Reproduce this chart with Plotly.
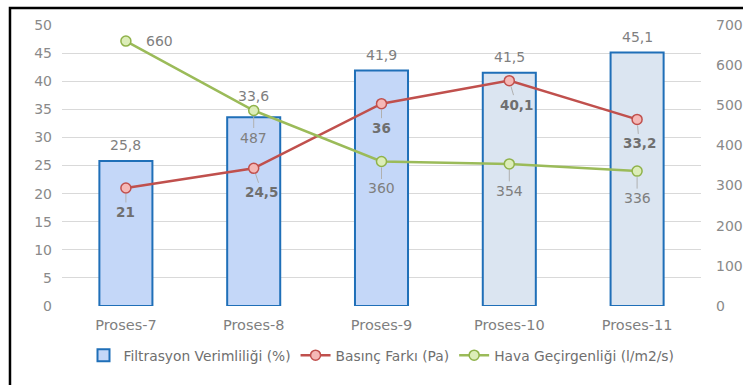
import plotly.graph_objects as go

categories = ["Proses-7", "Proses-8", "Proses-9", "Proses-10", "Proses-11"]
filtrasyon = [25.8, 33.6, 41.9, 41.5, 45.1]
basinc = [21, 24.5, 36, 40.1, 33.2]
hava = [660, 487, 360, 354, 336]
left_ticks = list(range(0, 51, 5))
right_ticks = list(range(0, 701, 100))


def fmt(v):
    s = f"{v:.1f}"
    if s.endswith(".0"):
        s = s[:-2]
    return s.replace(".", ",")


FONT = "'DejaVu Sans', sans-serif"
bar_colors = ["#c4d7f8", "#c4d7f8", "#c4d7f8", "#dbe5f1", "#dbe5f1"]

fig = go.Figure()
fig.add_trace(go.Bar(
    x=categories, y=filtrasyon, name="Filtrasyon Verimliliği (%)",
    marker=dict(color=bar_colors, line=dict(color="#1f6fb8", width=2)),
    yaxis="y",
))
fig.add_trace(go.Scatter(
    x=categories, y=basinc, name="Basınç Farkı (Pa)", mode="lines+markers",
    line=dict(color="#c0504d", width=2.5),
    marker=dict(size=10, color="#f5b8b6", line=dict(color="#c0504d", width=1.5)),
    yaxis="y",
))
fig.add_trace(go.Scatter(
    x=categories, y=hava, name="Hava Geçirgenliği (l/m2/s)", mode="lines+markers",
    line=dict(color="#9bbb59", width=2.5),
    marker=dict(size=10, color="#dcedb8", line=dict(color="#8fb24a", width=1.5)),
    yaxis="y2",
))

annotations = []
bar_dy = [16, 21, 16, 16, 16]
for i, (c, v) in enumerate(zip(categories, filtrasyon)):
    annotations.append(dict(
        x=c, y=v, xref="x", yref="y", text=fmt(v), showarrow=False,
        yshift=bar_dy[i], font=dict(color="#7f7f7f", size=14, family=FONT),
    ))
red_dx = [0, 8, 0, 7, 2]
for i, (c, v) in enumerate(zip(categories, basinc)):
    annotations.append(dict(
        x=c, y=v, xref="x", yref="y", text="<b>" + fmt(v) + "</b>",
        showarrow=True, arrowhead=0, arrowwidth=1, arrowcolor="#b0b0b0",
        ax=red_dx[i], ay=24, standoff=6,
        font=dict(color="#6f6f6f", size=13.5, family=FONT),
    ))
for i, (c, v) in enumerate(zip(categories, hava)):
    if i == 0:
        annotations.append(dict(
            x=c, y=v, xref="x", yref="y2", text=fmt(v), showarrow=False,
            xshift=34, font=dict(color="#7f7f7f", size=14, family=FONT),
        ))
    else:
        annotations.append(dict(
            x=c, y=v, xref="x", yref="y2", text=fmt(v),
            showarrow=True, arrowhead=0, arrowwidth=1, arrowcolor="#b0b0b0",
            ax=0, ay=27, standoff=6,
            font=dict(color="#7f7f7f", size=14, family=FONT),
        ))

fig.update_layout(
    width=743, height=385,
    margin=dict(l=62, r=42, t=25, b=79, autoexpand=False),
    paper_bgcolor="white", plot_bgcolor="white",
    font=dict(family=FONT, color="#7f7f7f", size=14),
    bargap=0.585,
    showlegend=True,
    legend=dict(orientation="h", x=0.5, xanchor="center", y=-0.175, yanchor="middle",
                font=dict(size=13.8, color="#6f6f6f", family=FONT),
                itemwidth=30, tracegroupgap=0),
    xaxis=dict(showgrid=False, showline=False, ticks="", automargin=False,
               tickfont=dict(size=14.5, color="#7f7f7f"), ticklabelstandoff=8),
    yaxis=dict(range=[0, 50], tickvals=left_ticks, showgrid=True, gridcolor="#d9d9d9",
               gridwidth=1, zeroline=False, showline=False, automargin=False,
               tickfont=dict(size=14, color="#8a8a8a"), ticklabelstandoff=9),
    yaxis2=dict(range=[0, 700], tickvals=right_ticks, overlaying="y", side="right",
                showgrid=False, zeroline=False, showline=False, automargin=False,
                tickfont=dict(size=14, color="#8a8a8a"), ticklabelstandoff=14),
    annotations=annotations,
    shapes=[dict(type="rect", xref="paper", yref="paper",
                 x0=-0.0814, x1=1.2, y0=-0.5, y1=1.0605,
                 line=dict(color="black", width=2.5), layer="above")],
)

fig.write_html("out.html")
